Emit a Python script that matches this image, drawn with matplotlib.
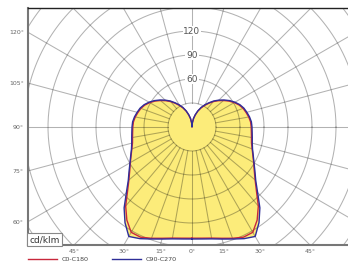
import numpy as np
import matplotlib
matplotlib.use('Agg')
import matplotlib.pyplot as plt
from matplotlib.patches import Polygon

# Luminous intensity (cd/klm), half profile from 0 deg (down) to 180 deg (up), step 5 deg
angles = list(range(0, 181, 5))
c0_c180 = [139, 139.5, 141, 144, 148, 152, 152, 142, 129, 114, 103, 95, 89, 84, 80, 77, 75.5,
           74.5, 74, 73.5, 72, 70, 68, 65, 61, 56.5, 51.5, 46.5, 41.5, 36, 31, 26, 21, 15.5, 10.5, 5, 0]
c90_c270 = [140, 140.5, 142, 145, 149, 154, 158, 146, 132, 116, 104, 96, 89.5, 84.5, 80.5, 78, 76.5,
            75.5, 75, 74.5, 73, 71, 69, 66, 62, 57.5, 52.5, 47.5, 42.5, 37, 32, 27, 21.5, 16, 11, 5.5, 0]
ring_labels = [60, 90, 120]
side_labels = [60, 75, 90, 105, 120]
bottom_labels = [-45, -30, -15, 0, 15, 30, 45]
series_names = ["C0-C180", "C90-C270"]
colors = ["#c8283c", "#2e2e98"]


def closed_curve(vals):
    th = np.radians(angles)
    r = np.array(vals, dtype=float)
    x = r * np.sin(th)
    y = -r * np.cos(th)
    # right half (C0 / C90) then mirrored left half (C180 / C270)
    xs = np.concatenate([x, -x[::-1]])
    ys = np.concatenate([y, y[::-1]])
    return np.column_stack([xs, ys])


fig = plt.figure(figsize=(3.48, 2.64), dpi=100)
W, H = 348, 264
x0, x1, y0, y1 = 28, 350, 8, 245
ax = fig.add_axes([x0 / W, 1 - y1 / H, (x1 - x0) / W, (y1 - y0) / H])

scale = 0.8  # px per cd/klm
cx, cy = 192, 127
xmin, xmax = (x0 - cx) / scale, (x1 - cx) / scale
ymin, ymax = -(y1 - cy) / scale, (cy - y0) / scale
ax.set_xlim(xmin, xmax)
ax.set_ylim(ymin, ymax)
ax.set_aspect('equal')

grid_kw = dict(color="black", alpha=0.3, lw=0.75)

# outer rays every 15 deg (hidden under the fill)
for a in range(0, 360, 15):
    t = np.radians(a)
    ax.plot([30 * np.sin(t), 400 * np.sin(t)], [-30 * np.cos(t), -400 * np.cos(t)], zorder=0.5, **grid_kw)

# yellow fill
fills = []
for vals in [c90_c270, c0_c180]:
    p = Polygon(closed_curve(vals), closed=True, facecolor="#fcec7a", edgecolor="none", zorder=1)
    ax.add_patch(p)
    fills.append(p)

# rings
tt = np.linspace(0, 2 * np.pi, 400)
for rr in range(30, 330, 30):
    ax.plot(rr * np.cos(tt), rr * np.sin(tt), zorder=2, **grid_kw)

# rays every 10 deg inside the lit area
for a in range(0, 360, 10):
    t = np.radians(a)
    ln, = ax.plot([30 * np.sin(t), 400 * np.sin(t)], [-30 * np.cos(t), -400 * np.cos(t)], zorder=2, **grid_kw)
    ln.set_clip_path(fills[0])

# curves
handles = []
for vals, col, name in zip([c0_c180, c90_c270], colors, series_names):
    pts = closed_curve(vals)
    h, = ax.plot(np.append(pts[:, 0], pts[0, 0]), np.append(pts[:, 1], pts[0, 1]),
                 color=col, lw=1.0, zorder=3, label=name)
    handles.append(h)

# ring value labels
for v in ring_labels:
    ax.text(0, v, str(v), ha='center', va='center', fontsize=6.5, color="#555555", zorder=4,
            bbox=dict(boxstyle='square,pad=0.1', fc='white', ec='none'))

# angle labels on the frame
ax.set_yticks([xmin / np.tan(np.radians(a)) for a in side_labels])
ax.set_yticklabels([f"{a}°" for a in side_labels])
ax.set_xticks([-ymin * np.tan(np.radians(a)) for a in bottom_labels])
ax.set_xticklabels([f"{abs(a)}°" for a in bottom_labels])
ax.tick_params(length=0, labelsize=4.5, labelcolor="#666666", pad=3)

for s in ['left', 'bottom']:
    ax.spines[s].set_color("#777777")
    ax.spines[s].set_linewidth(1.5)
ax.spines['top'].set_color("#222222")
ax.spines['top'].set_linewidth(1.0)
ax.spines['right'].set_visible(False)

ax.text(0.004, 0.004, "cd/klm", transform=ax.transAxes, ha='left', va='bottom', fontsize=6.5,
        color="#333333", zorder=5,
        bbox=dict(boxstyle='square,pad=0.25', fc='white', ec='#888888', lw=0.8))

fig.legend(handles=handles, loc='center left', bbox_to_anchor=(28 / W, 1 - 259.5 / H), ncol=2,
           frameon=False, fontsize=4.6, handlelength=4.5, handletextpad=0.8, columnspacing=3.6,
           borderpad=0, borderaxespad=0, labelcolor="#444444")

fig.savefig("out.png", dpi=100)
